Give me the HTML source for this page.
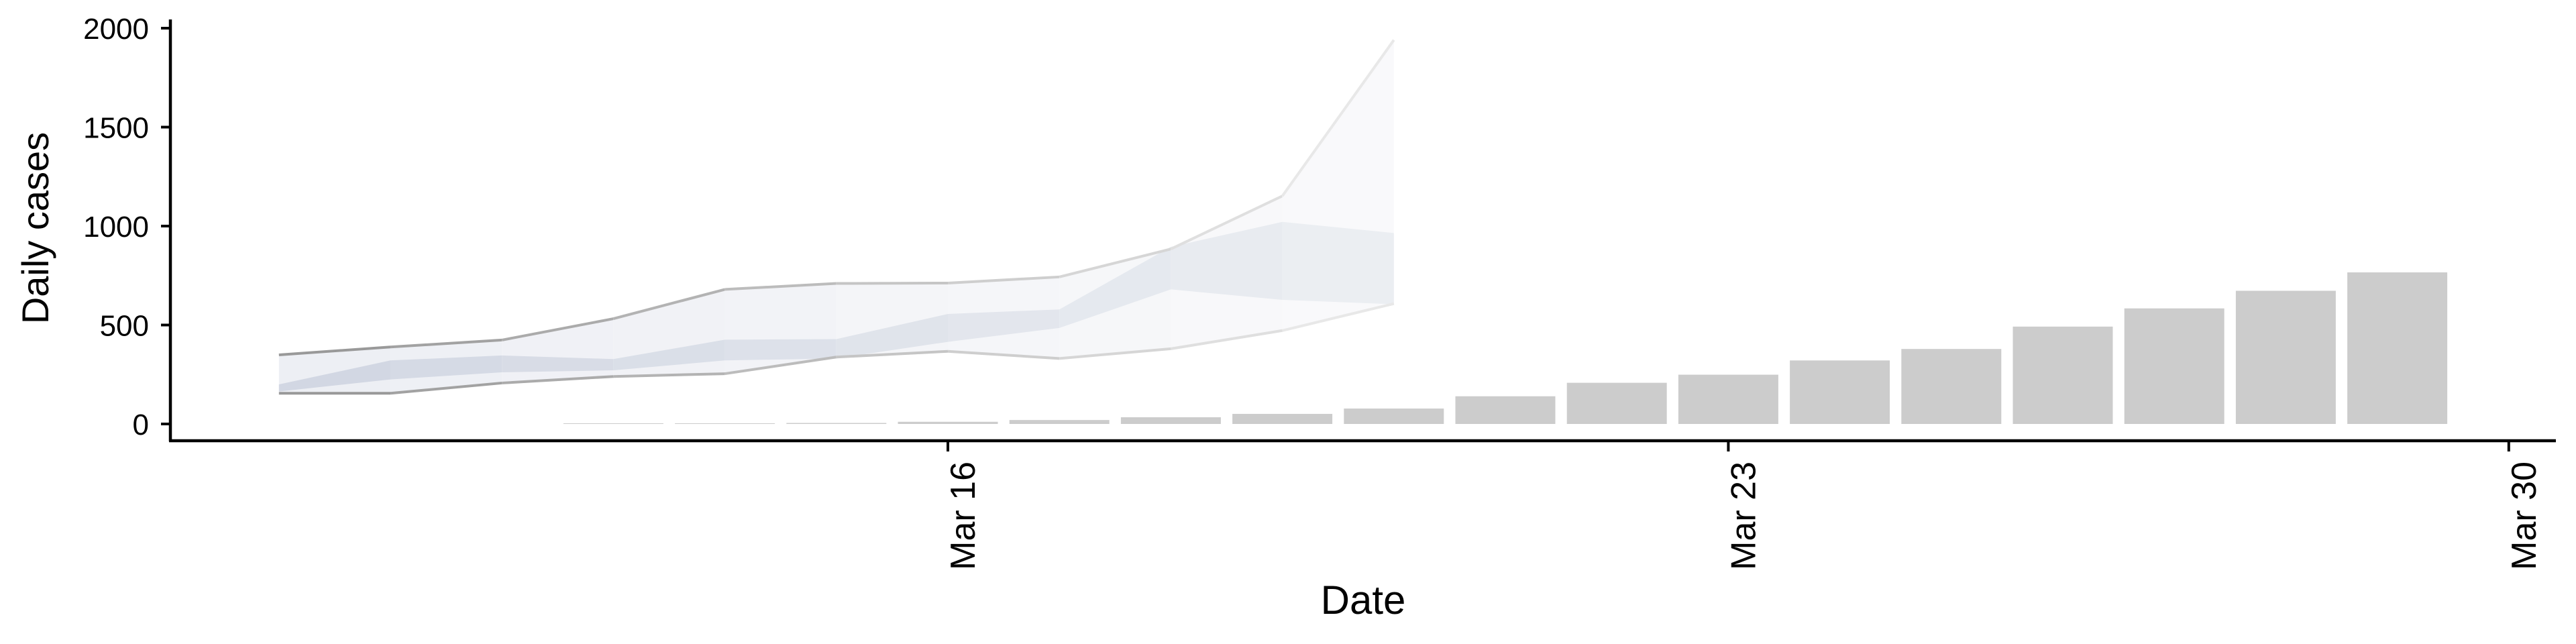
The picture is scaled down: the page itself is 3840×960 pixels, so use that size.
<!DOCTYPE html>
<html><head><meta charset="utf-8"><style>
html,body{margin:0;padding:0;background:#fff;}
svg{display:block;font-family:"Liberation Sans",Arial,sans-serif;}
</style></head><body>
<svg id="chart" width="3840" height="960" viewBox="0 0 3840 960">
<g id="ribbons"></g>
<g id="bars"></g>
<g id="axes"></g>
<text x="2032" y="915" font-size="60" text-anchor="middle">Date</text>
<text transform="translate(72,340) rotate(-90)" font-size="56" text-anchor="middle">Daily cases</text>
</svg>
<script>
const barDays = [13,14,15,16,17,18,19,20,21,22,23,24,25,26,27,28,29];
const barValues = [3,3,5,11,20,34,51,78,140,208,249,321,379,492,584,673,766];
const ribbonDays = [10,11,12,13,14,15,16,17,18,19,20];
const outerHi = [349,389,424,532,680,710,712,743,884,1152,1940];
const outerLo = [155,155,207,240,254,338,367,331,380,472,608];
const innerHi = [200,321,346,328,426,429,556,579,895,1021,965];
const innerLo = [164,225,261,271,321,331,415,485,680,627,605];
const yTicks = [0,500,1000,1500,2000];
const xTickDays = [16,23,30];
const xTickLabels = ["Mar 16","Mar 23","Mar 30"];

const NS = "http://www.w3.org/2000/svg";
const x = d => 1413 + (d - 16) * 166.2;
const y = v => 632 - v * 0.295;
function mk(tag, attrs, parent){const e=document.createElementNS(NS,tag);for(const k in attrs)e.setAttribute(k,attrs[k]);parent.appendChild(e);return e;}
function mix(a,b,t){const pa=a.match(/\w\w/g).map(h=>parseInt(h,16)),pb=b.match(/\w\w/g).map(h=>parseInt(h,16));return "rgb("+pa.map((v,i)=>Math.round(v+(pb[i]-v)*t)).join(",")+")";}

const rg = document.getElementById("ribbons");
const n = ribbonDays.length;
for(let i=0;i<n-1;i++){
  const t = i/(n-2);
  const x0=x(ribbonDays[i]), x1=x(ribbonDays[i+1]);
  const o = mk("polygon",{points:`${x0},${y(outerHi[i])} ${x1},${y(outerHi[i+1])} ${x1},${y(outerLo[i+1])} ${x0},${y(outerLo[i])}`,fill:mix("edeff4","f9f9fb",t)},rg);
  
  
  const inn = mk("polygon",{points:`${x0},${y(innerHi[i])} ${x1},${y(innerHi[i+1])} ${x1},${y(innerLo[i+1])} ${x0},${y(innerLo[i])}`,fill:mix("d2d7e3","ebeef2",t)},rg);
  
  
  const lc = mix("999999","e8e8e8",t);
  const l1 = mk("line",{x1:x0,y1:y(outerHi[i]),x2:x1,y2:y(outerHi[i+1]),stroke:lc,"stroke-width":4},rg);
  
  
  const l2 = mk("line",{x1:x0,y1:y(outerLo[i]),x2:x1,y2:y(outerLo[i+1]),stroke:lc,"stroke-width":4},rg);
  
  
}

const bg = document.getElementById("bars");
const bw = 149;
barDays.forEach((d,i)=>{
  const h = Math.max(barValues[i]*0.295, 1);
  const r = mk("rect",{x:x(d)-bw/2,y:632-h,width:bw,height:h,fill:"#cccccc"},bg);
  
  
});

const ag = document.getElementById("axes");
const ya = mk("line",{x1:254,y1:29,x2:254,y2:658,stroke:"#000","stroke-width":4.5},ag);


const xa = mk("line",{x1:252,y1:657,x2:3810,y2:657,stroke:"#000","stroke-width":4.5},ag);


yTicks.forEach(v=>{
  const tk = mk("line",{x1:240,y1:y(v),x2:254,y2:y(v),stroke:"#000","stroke-width":4},ag);
  
  
  const tx = mk("text",{x:222,y:y(v)+16,"font-size":44,"text-anchor":"end"},ag);
  tx.textContent = v;
  
  
});
xTickDays.forEach((d,i)=>{
  const tk = mk("line",{x1:x(d),y1:657,x2:x(d),y2:673,stroke:"#000","stroke-width":4},ag);
  
  
  const tx = mk("text",{transform:`translate(${x(d)+40},688) rotate(-90)`,"font-size":52,"text-anchor":"end"},ag);
  tx.textContent = xTickLabels[i];
  
  
});
</script>
</body></html>
